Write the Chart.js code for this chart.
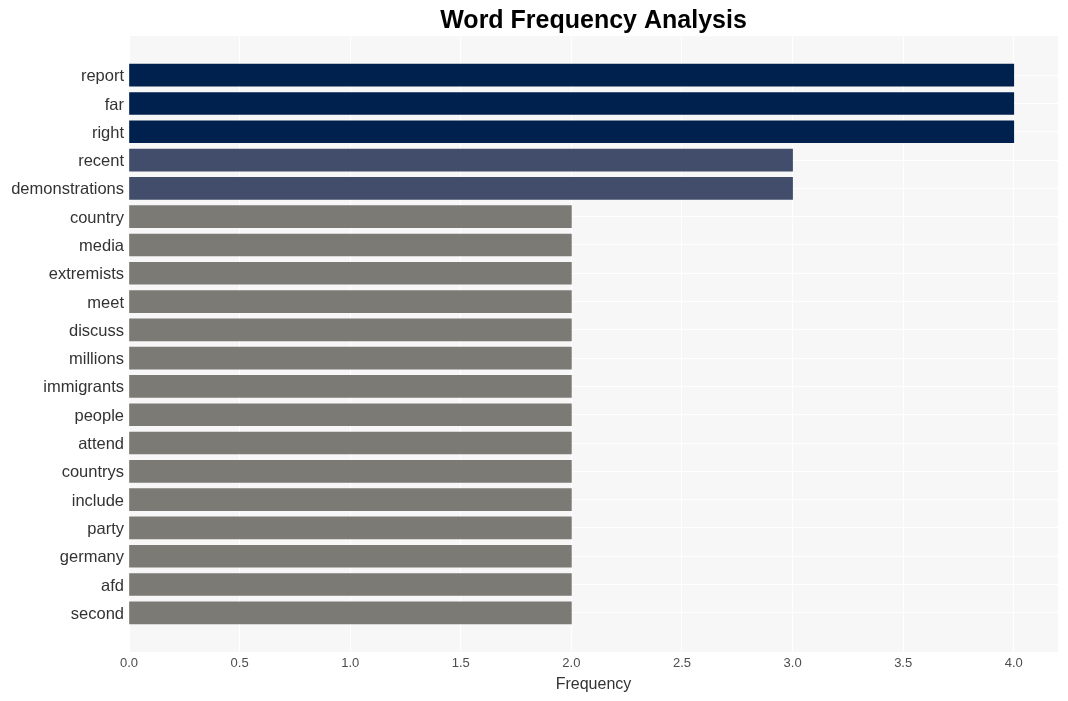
<!DOCTYPE html>
<html>
<head>
<meta charset="utf-8">
<script src="https://cdn.jsdelivr.net/npm/chart.js@4.4.1/dist/chart.umd.min.js"></script>
<style>
  body { margin: 0; background: #fff; }
</style>
</head>
<body>
<canvas id="wordChart" width="1068" height="701"></canvas>
<script>
// words and how often they appear
const words = ["report", "far", "right", "recent", "demonstrations", "country", "media",
  "extremists", "meet", "discuss", "millions", "immigrants", "people", "attend",
  "countrys", "include", "party", "germany", "afd", "second"];
const counts = [4, 4, 4, 3, 3, 2, 2, 2, 2, 2, 2, 2, 2, 2, 2, 2, 2, 2, 2, 2];
const xTicks = [0, 0.5, 1, 1.5, 2, 2.5, 3, 3.5, 4];

// colour by frequency
function barColor(v) {
  if (v >= 4) return "#00214e";
  if (v >= 3) return "#414d6b";
  return "#7c7a75";
}

// grey plot panel + title centred over the panel
const panelPlugin = {
  id: "panel",
  beforeDraw(chart) {
    const { ctx, chartArea } = chart;
    ctx.save();
    ctx.fillStyle = "#f7f7f7";
    ctx.fillRect(chartArea.left, chartArea.top, chartArea.right - chartArea.left, chartArea.bottom - chartArea.top);
    ctx.restore();
  },
  afterDraw(chart) {
    const { ctx, chartArea } = chart;
    ctx.save();
    ctx.font = "bold 25px 'Liberation Sans', Arial, sans-serif";
    ctx.fillStyle = "#000";
    ctx.textAlign = "center";
    ctx.textBaseline = "middle";
    ctx.fillText("Word Frequency Analysis", (chartArea.left + chartArea.right) / 2, 21);
    ctx.restore();
  }
};

const points = words.map((w, i) => ({ x: counts[i], y: i }));

new Chart(document.getElementById("wordChart"), {
  type: "bar",
  data: {
    datasets: [{
      label: "Frequency",
      data: points,
      backgroundColor: counts.map(barColor),
      barThickness: 22
    }]
  },
  options: {
    indexAxis: "y",
    responsive: false,
    animation: false,
    layout: { padding: { top: 36, right: 10, left: 0, bottom: 0 } },
    plugins: { legend: { display: false }, title: { display: false }, tooltip: { enabled: false } },
    scales: {
      x: {
        type: "linear",
        min: 0,
        max: 4.2,
        afterBuildTicks: s => { s.ticks = xTicks.map(v => ({ value: v })); },
        afterFit: s => { s.height = 49; },
        grid: { color: "#ffffff", lineWidth: 1, drawTicks: false },
        border: { display: false },
        ticks: {
          padding: 4,
          color: "#4d4d4d",
          font: { family: "'Liberation Sans', Arial, sans-serif", size: 13 },
          callback: v => v.toFixed(1)
        },
        title: {
          display: true,
          text: "Frequency",
          color: "#333",
          font: { family: "'Liberation Sans', Arial, sans-serif", size: 16 },
          padding: { top: 4, bottom: 7 }
        }
      },
      y: {
        type: "linear",
        reverse: true,
        offset: false,
        min: -1.385,
        max: words.length - 1 + 1.385,
        afterBuildTicks: s => { s.ticks = words.map((w, i) => ({ value: i })); },
        afterFit: s => { s.width = 129; },
        grid: { color: "#ffffff", lineWidth: 1, drawTicks: false, offset: false },
        border: { display: false },
        ticks: {
          padding: 5,
          labelOffset: 1.5,
          color: "#333",
          font: { family: "'Liberation Sans', Arial, sans-serif", size: 16.5 },
          callback: v => words[v]
        }
      }
    }
  },
  plugins: [panelPlugin]
});
</script>
</body>
</html>
